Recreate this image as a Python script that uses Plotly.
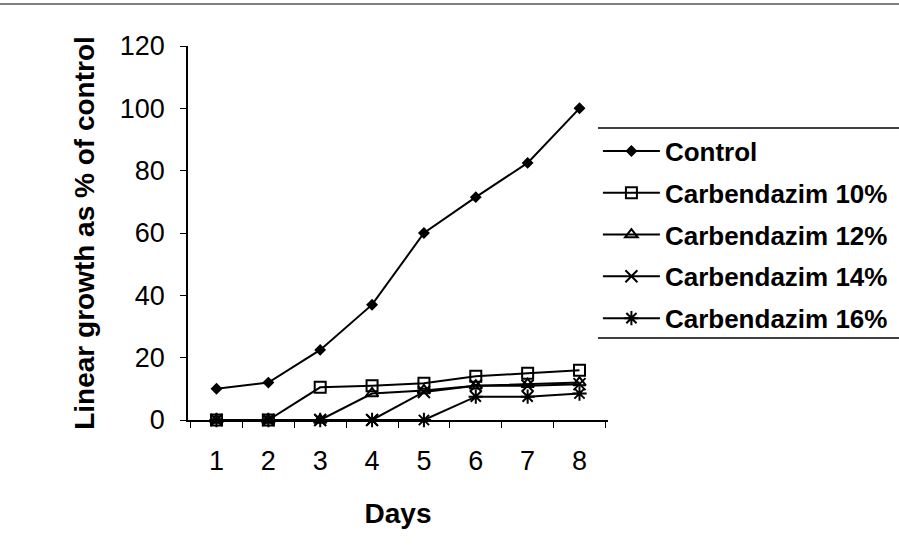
import plotly.graph_objects as go

days = ["1", "2", "3", "4", "5", "6", "7", "8"]
control = [10, 12, 22.5, 37, 60, 71.5, 82.5, 100]
carb_10 = [0, 0, 10.5, 11, 11.8, 14, 15, 16]
carb_12 = [0, 0, 0, 8.5, 9.5, 11, 11.5, 12]
carb_14 = [0, 0, 0, 0, 9, 11, 11, 11.5]
carb_16 = [0, 0, 0, 0, 0, 7.5, 7.5, 8.5]

series = [
    ("Control", control, "diamond", 7),
    ("Carbendazim 10%", carb_10, "square-open", 11),
    ("Carbendazim 12%", carb_12, "triangle-up-open", 11),
    ("Carbendazim 14%", carb_14, "x-thin-open", 12),
    ("Carbendazim 16%", carb_16, "asterisk-open", 12),
]

font_family = "Liberation Sans, Arial, sans-serif"

fig = go.Figure()
for i, (name, vals, symbol, size) in enumerate(series):
    fig.add_trace(go.Scatter(
        x=days, y=vals, name=name, mode="lines+markers",
        legendgroup=f"g{i}",
        line=dict(color="black", width=2),
        marker=dict(symbol=symbol, size=size, color="black",
                    line=dict(color="black", width=2)),
        cliponaxis=False,
    ))

fig.update_layout(
    width=899, height=558,
    margin=dict(l=188, r=291, t=46, b=138, autoexpand=False),
    paper_bgcolor="white", plot_bgcolor="white",
    font=dict(family=font_family, color="black", size=27),
    showlegend=True,
    legend=dict(
        x=0.976, y=0.782, xanchor="left", yanchor="top",
        font=dict(family=font_family, size=26, color="black", weight="bold"),
        bgcolor="rgba(0,0,0,0)", borderwidth=0,
        tracegroupgap=5, itemwidth=57,
    ),
    xaxis=dict(
        type="category", tickson="boundaries",
        ticks="outside", ticklen=6, tickcolor="black", tickwidth=1,
        showline=True, linecolor="black", linewidth=1.5,
        showgrid=False, zeroline=False,
        tickfont=dict(size=27), ticklabelstandoff=16,
        title=dict(text="<b>Days</b>", font=dict(size=28), standoff=28),
    ),
    yaxis=dict(
        range=[0, 120], tickvals=[0, 20, 40, 60, 80, 100, 120],
        ticks="outside", ticklen=6, tickcolor="black", tickwidth=1,
        showline=True, linecolor="black", linewidth=1.5,
        showgrid=False, zeroline=False,
        tickfont=dict(size=27), ticklabelstandoff=10,
        title=dict(text="<b>Linear growth as % of control</b>",
                   font=dict(size=28), standoff=17),
    ),
    shapes=[
        # page rule across the top
        dict(type="line", xref="paper", yref="paper",
             x0=-0.45, x1=1.7, y0=1.112, y1=1.112,
             line=dict(color="#555", width=1.5)),
        # legend top and bottom rules
        dict(type="line", xref="paper", yref="paper",
             x0=0.976, x1=1.7, y0=0.781, y1=0.781,
             line=dict(color="black", width=1.5)),
        dict(type="line", xref="paper", yref="paper",
             x0=0.976, x1=1.7, y0=0.219, y1=0.219,
             line=dict(color="black", width=1.5)),
    ],
)

fig.write_html("out.html")
